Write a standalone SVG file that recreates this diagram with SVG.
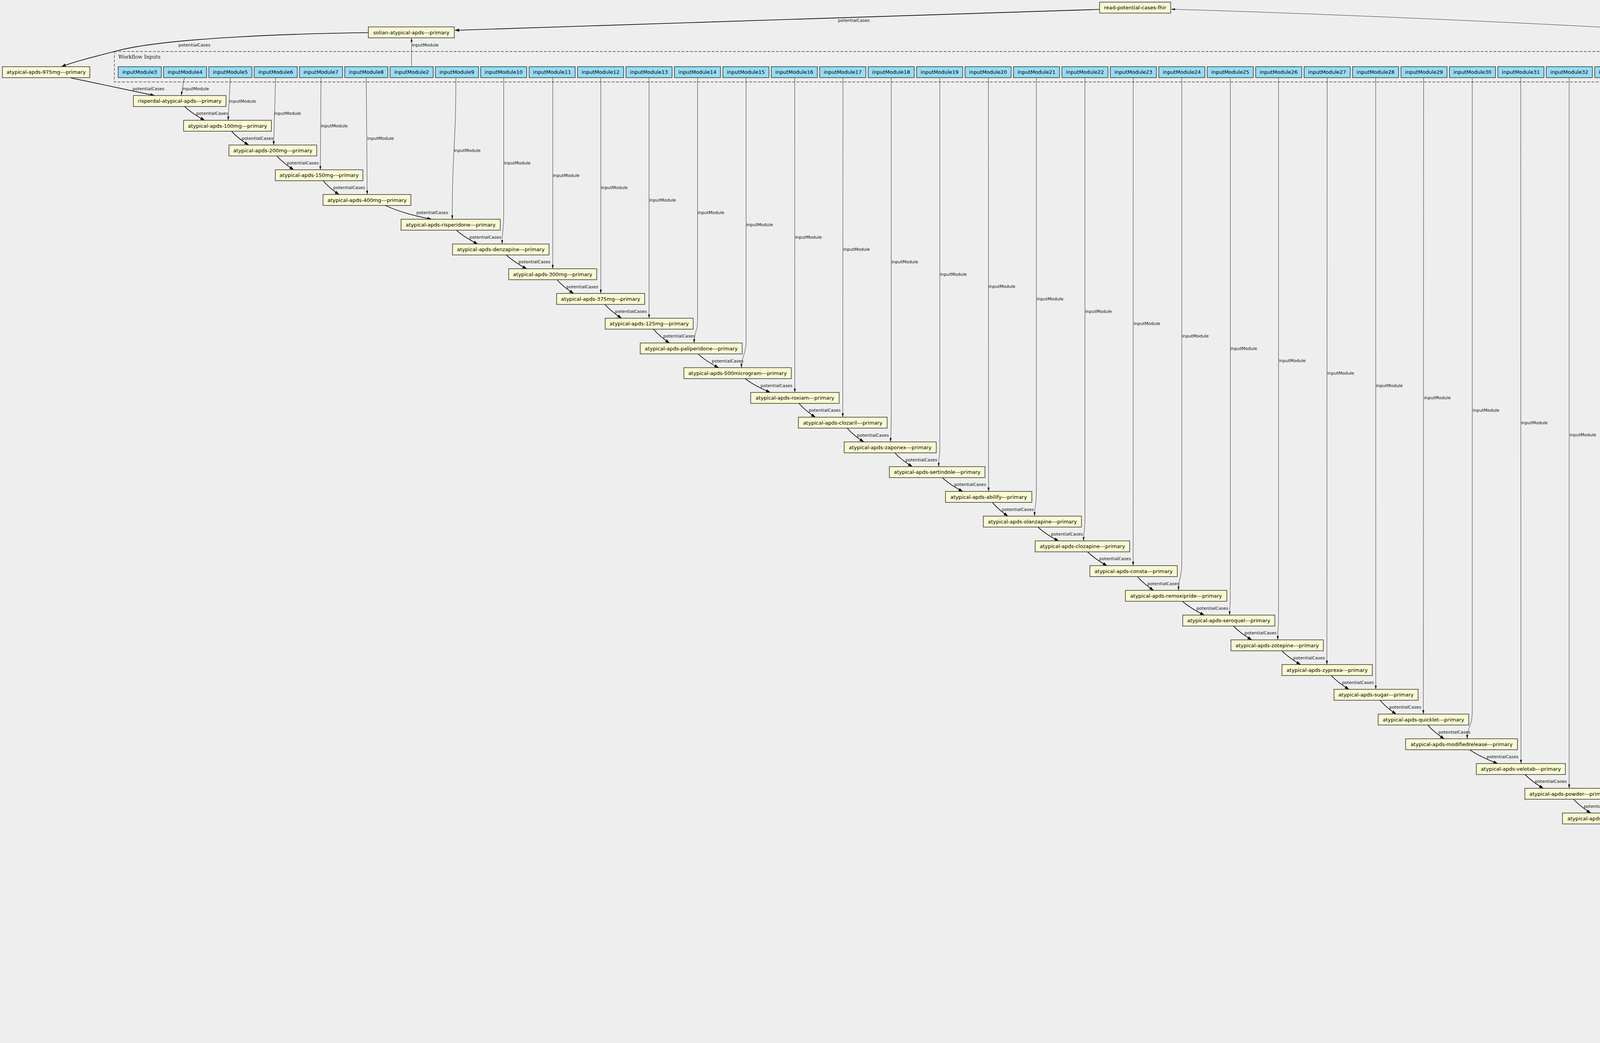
<svg xmlns="http://www.w3.org/2000/svg" width="5211" height="2670" viewBox="0 0 5211 2670">
<defs>
<style>
.step{fill:#fafad2;stroke:#333;stroke-width:1.5}
.io{fill:#94ddf4;stroke:#333;stroke-width:1.5}
.nt{font-family:"DejaVu Sans",sans-serif;font-size:13px;text-anchor:middle;fill:#000}
.el{font-family:"DejaVu Sans",sans-serif;font-size:11px;fill:#111}
.cl{fill:none;stroke:#444;stroke-width:1.4;stroke-dasharray:7,4}
.ct{font-family:"DejaVu Serif",serif;font-size:13px;fill:#222}
.pc{fill:none;stroke:#000;stroke-width:1.6;marker-end:url(#ab)}
.im{fill:none;stroke:#333;stroke-width:1;marker-end:url(#at)}
.oc{fill:none;stroke:#333;stroke-width:2;marker-end:url(#ab)}
</style>
<marker id="ab" viewBox="0 0 11 8" refX="11" refY="4" markerWidth="11" markerHeight="8" markerUnits="userSpaceOnUse" orient="auto"><path d="M0,0L11,4L0,8z" fill="#000"/></marker>
<marker id="at" viewBox="0 0 10 5" refX="10" refY="2.5" markerWidth="10" markerHeight="5" markerUnits="userSpaceOnUse" orient="auto"><path d="M0,0L10,2.5L0,5z" fill="#000"/></marker>
</defs>
<rect x="0" y="0" width="5211" height="2670" fill="#eeeeee"/>

<g id="cluster-inputs"><rect class="cl" x="292.7" y="131.7" width="4902.3" height="78"/><text class="ct" x="302.7" y="150">Workflow Inputs</text></g>
<g id="cluster-outputs"><rect class="cl" x="4971.6" y="2576" width="142.4" height="78"/><text class="ct" x="5042.8" y="2643.5" text-anchor="middle">Workflow Outputs</text></g>

<g id="connectors">
<path class="pc" d="M2815,24 L1164.5,77.5"/>
<text class="el" x="2145" y="55.8">potentialCases</text>
<path class="pc" d="M943,83.5 C760,86 430,96 300,130 C230,148 190,158 157.5,170.5"/>
<text class="el" x="456.8" y="119">potentialCases</text>
<path class="im" d="M4747,170.7 C4715,125 4660,112 4470,93 C4200,70 3400,35 2998,23.6"/>
<text class="el" x="4481" y="87">inputModule</text>
<path class="im" d="M1053.6,170.7 L1053.6,97.3"/>
<text class="el" x="1054.5" y="119">inputModule</text>
<path class="pc" d="M180.7,199.3 L396,244.6"/>
<text class="el" x="339.3" y="231">potentialCases</text>

<path class="pc" d="M472.5,272.6 C487.9,287.4 506,298.4 524,307.9"/>
<path class="pc" d="M592.7,335.9 C605.9,350.7 621.3,361.8 636.7,371.3"/>
<path class="pc" d="M708.8,399.3 C721.8,414.1 736.9,425.1 752,434.6"/>
<path class="pc" d="M827,462.6 C839.3,477.4 853.7,488.4 868,497.9"/>
<path class="pc" d="M986.5,525.9 C1025,544 1065,553 1105,561.3"/>
<path class="pc" d="M1168.4,589.3 C1184.8,604.1 1203.9,615.1 1223,624.6"/>
<path class="pc" d="M1296,652.6 C1311.8,667.4 1330.2,678.5 1348.6,688"/>
<path class="pc" d="M1425.8,716 C1438.6,730.8 1453.6,741.8 1468.6,751.3"/>
<path class="pc" d="M1548.6,779.3 C1561.4,794.1 1576.4,805.1 1591.4,814.6"/>
<path class="pc" d="M1672.7,842.6 C1685.1,857.4 1699.5,868.5 1714,878"/>
<path class="pc" d="M1787,906 C1802.8,920.8 1821.3,931.8 1839.7,941.3"/>
<path class="pc" d="M1907.7,969.3 C1927,984.1 1949.5,995.1 1972,1004.6"/>
<path class="pc" d="M2045.2,1032.6 C2057.8,1047.4 2072.6,1058.5 2087.3,1068"/>
<path class="pc" d="M2168.7,1096 C2181.5,1110.8 2196.5,1121.8 2211.5,1131.3"/>
<path class="pc" d="M2290.7,1159.3 C2304.2,1174.1 2319.9,1185.1 2335.6,1194.6"/>
<path class="pc" d="M2412,1222.6 C2427.8,1237.4 2446.3,1248.5 2464.7,1258"/>
<path class="pc" d="M2540.5,1286 C2552.5,1300.8 2566.5,1311.8 2580.5,1321.3"/>
<path class="pc" d="M2657,1349.3 C2672.9,1364.1 2691.5,1375.1 2710,1384.6"/>
<path class="pc" d="M2784,1412.6 C2799,1427.4 2816.5,1438.5 2834,1448"/>
<path class="pc" d="M2912,1476 C2924.4,1490.8 2938.9,1501.8 2953.4,1511.3"/>
<path class="pc" d="M3027,1539.3 C3043.9,1554.1 3063.5,1565.1 3083.2,1574.6"/>
<path class="pc" d="M3157.6,1602.6 C3171.7,1617.4 3188.2,1628.5 3204.6,1638"/>
<path class="pc" d="M3281.7,1666 C3296,1680.8 3312.8,1691.8 3329.5,1701.3"/>
<path class="pc" d="M3408,1729.3 C3421.7,1744.1 3437.6,1755.1 3453.6,1764.6"/>
<path class="pc" d="M3532.9,1792.6 C3545.3,1807.4 3559.8,1818.5 3574.3,1828"/>
<path class="pc" d="M3655,1856 C3667.7,1870.8 3682.5,1881.8 3697.3,1891.3"/>
<path class="pc" d="M3762.6,1919.3 C3784,1934.1 3809,1945.1 3834,1954.6"/>
<path class="pc" d="M3904,1982.6 C3918.1,1997.4 3934.6,2008.5 3951,2018"/>
<path class="pc" d="M4028.4,2046 C4041.7,2060.8 4057.1,2071.8 4072.6,2081.3"/>
<path class="pc" d="M4144,2109.3 C4161.1,2124.1 4181,2135.1 4201,2144.6"/>
<path class="pc" d="M4275.4,2172.6 C4288.8,2187.4 4304.4,2198.5 4320,2208"/>
<path class="pc" d="M4391,2236 C4408.3,2250.8 4428.4,2261.8 4448.6,2271.3"/>
<path class="pc" d="M4522.5,2299.3 C4539.1,2314.1 4558.4,2325.1 4577.7,2334.6"/>
<path class="pc" d="M4694,2362.6 L4825.8,2398"/>
<path class="pc" d="M4888,2426 C4901.5,2440.8 4917.3,2451.8 4933,2461.3"/>
<path class="pc" d="M5004,2489.3 C5012,2503 5020,2512 5028,2524.6"/>
<path class="oc" d="M5041.6,2552.6 L5041.6,2587.3"/>

<text class="el" x="502.4" y="294.3">potentialCases</text>
<text class="el" x="618.4" y="357.6">potentialCases</text>
<text class="el" x="734.5" y="421">potentialCases</text>
<text class="el" x="853" y="484.3">potentialCases</text>
<text class="el" x="1066" y="547.6">potentialCases</text>
<text class="el" x="1202" y="611">potentialCases</text>
<text class="el" x="1327.6" y="674.3">potentialCases</text>
<text class="el" x="1450" y="737.7">potentialCases</text>
<text class="el" x="1574.5" y="801">potentialCases</text>
<text class="el" x="1698" y="864.3">potentialCases</text>
<text class="el" x="1822" y="927.7">potentialCases</text>
<text class="el" x="1947" y="991">potentialCases</text>
<text class="el" x="2070.5" y="1054.3">potentialCases</text>
<text class="el" x="2194" y="1117.7">potentialCases</text>
<text class="el" x="2318" y="1181">potentialCases</text>
<text class="el" x="2443" y="1244.3">potentialCases</text>
<text class="el" x="2565" y="1307.7">potentialCases</text>
<text class="el" x="2690.6" y="1371">potentialCases</text>
<text class="el" x="2813.8" y="1434.3">potentialCases</text>
<text class="el" x="2937.3" y="1497.7">potentialCases</text>
<text class="el" x="3062.9" y="1561">potentialCases</text>
<text class="el" x="3186.3" y="1624.3">potentialCases</text>
<text class="el" x="3310.5" y="1687.7">potentialCases</text>
<text class="el" x="3435.4" y="1751">potentialCases</text>
<text class="el" x="3556.7" y="1814.3">potentialCases</text>
<text class="el" x="3682.6" y="1877.7">potentialCases</text>
<text class="el" x="3806" y="1941">potentialCases</text>
<text class="el" x="3929.5" y="2004.3">potentialCases</text>
<text class="el" x="4054.4" y="2067.7">potentialCases</text>
<text class="el" x="4178.5" y="2131">potentialCases</text>
<text class="el" x="4302" y="2194.3">potentialCases</text>
<text class="el" x="4426" y="2257.7">potentialCases</text>
<text class="el" x="4555.6" y="2321">potentialCases</text>
<text class="el" x="4781" y="2384.3">potentialCases</text>
<text class="el" x="4914.7" y="2447.7">potentialCases</text>
<text class="el" x="5021" y="2511">potentialCases</text>

<path class="im" d="M472,198.7 L464,244.6"/>
<path class="im" d="M589.7,198.7 L584,307.9"/>
<path class="im" d="M705.6,198.7 L700.5,371.3"/>
<path class="im" d="M821.8,198.7 L820,434.6"/>
<path class="im" d="M937.6,198.7 L940,497.9"/>
<path class="im" d="M1167,198.7 C1167,380 1157.8,380 1157.8,561.3"/>
<path class="im" d="M1289.5,198.7 L1289.5,540 C1289.5,590 1285.5,590 1285.5,624.6"/>
<path class="im" d="M1415,198.7 L1415,688"/>
<path class="im" d="M1538,198.7 L1538,751.3"/>
<path class="im" d="M1661.5,198.7 L1661.5,814.6"/>
<path class="im" d="M1785.7,198.7 L1785.7,820 C1785.7,850 1777,850 1777,878"/>
<path class="im" d="M1910,198.7 L1910,870 C1910,910 1898,910 1898,941.3"/>
<path class="im" d="M2034.5,198.7 L2034.7,1004.6"/>
<path class="im" d="M2158,198.7 L2157.5,1068"/>
<path class="im" d="M2281.5,198.7 L2281.5,1080 C2281.5,1110 2280,1110 2280,1131.3"/>
<path class="im" d="M2405.9,198.7 L2405.9,1140 C2405.9,1170 2403,1170 2403,1194.6"/>
<path class="im" d="M2530.3,198.7 L2530.7,1258"/>
<path class="im" d="M2653,198.7 L2653,1260 C2653,1295 2648.5,1295 2648.5,1321.3"/>
<path class="im" d="M2777.4,198.7 L2777.4,1325 C2777.4,1360 2774,1360 2774,1384.6"/>
<path class="im" d="M2901,198.7 L2900.8,1448"/>
<path class="im" d="M3025.3,198.7 L3025.3,1440 C3025.3,1480 3017,1480 3017,1511.3"/>
<path class="im" d="M3149.6,198.7 L3149.6,1520 C3149.6,1550 3147.8,1550 3147.8,1574.6"/>
<path class="im" d="M3273,198.7 L3273,1580 C3273,1610 3271,1610 3271,1638"/>
<path class="im" d="M3397.5,198.7 L3396.8,1701.3"/>
<path class="im" d="M3521.8,198.7 L3522,1764.6"/>
<path class="im" d="M3644.5,198.7 L3643.7,1828"/>
<path class="im" d="M3769,198.7 L3769,1820 C3769,1860 3756,1860 3756,1891.3"/>
<path class="im" d="M3893,198.7 L3893.7,1954.6"/>
<path class="im" d="M4017,198.7 L4017,2018"/>
<path class="im" d="M4141.6,198.7 L4141.6,2010 C4141.6,2050 4134,2050 4134,2081.3"/>
<path class="im" d="M4265.3,198.7 L4264.8,2144.6"/>
<path class="im" d="M4390,198.7 L4390,2140 C4390,2175 4381,2175 4381,2208"/>
<path class="im" d="M4513.6,198.7 L4513.6,2210 C4513.6,2240 4510,2240 4510,2271.3"/>
<path class="im" d="M4639,198.7 C4641,220 4643,240 4643,270 L4643,2334.6"/>
<path class="im" d="M4878,198.7 L4877.5,2398"/>
<path class="im" d="M5001.8,198.7 L5001.8,2400 C5001.8,2435 4997,2435 4997,2461.3"/>
<path class="im" d="M5125.6,198.7 L5125.6,2470 C5125.6,2495 5108,2508 5091,2524.6"/>

<text class="el" x="466.7" y="231">inputModule</text>
<text class="el" x="587" y="262.7">inputModule</text>
<text class="el" x="702" y="294.3">inputModule</text>
<text class="el" x="821.5" y="326">inputModule</text>
<text class="el" x="940" y="357.6">inputModule</text>
<text class="el" x="1162" y="389.3">inputModule</text>
<text class="el" x="1290" y="420.9">inputModule</text>
<text class="el" x="1415.5" y="452.6">inputModule</text>
<text class="el" x="1538.5" y="484.2">inputModule</text>
<text class="el" x="1662" y="515.9">inputModule</text>
<text class="el" x="1786" y="547.5">inputModule</text>
<text class="el" x="1910.5" y="579.2">inputModule</text>
<text class="el" x="2035.5" y="610.8">inputModule</text>
<text class="el" x="2158.5" y="642.4">inputModule</text>
<text class="el" x="2282" y="674.1">inputModule</text>
<text class="el" x="2406.5" y="705.7">inputModule</text>
<text class="el" x="2531" y="737.4">inputModule</text>
<text class="el" x="2654" y="769">inputModule</text>
<text class="el" x="2778" y="800.7">inputModule</text>
<text class="el" x="2902" y="832.3">inputModule</text>
<text class="el" x="3026" y="864">inputModule</text>
<text class="el" x="3150" y="895.6">inputModule</text>
<text class="el" x="3274" y="927.2">inputModule</text>
<text class="el" x="3398" y="958.9">inputModule</text>
<text class="el" x="3522.5" y="990.5">inputModule</text>
<text class="el" x="3645.5" y="1022.2">inputModule</text>
<text class="el" x="3770" y="1053.8">inputModule</text>
<text class="el" x="3894" y="1085.5">inputModule</text>
<text class="el" x="4018" y="1117.1">inputModule</text>
<text class="el" x="4142.5" y="1148.8">inputModule</text>
<text class="el" x="4266" y="1180.4">inputModule</text>
<text class="el" x="4391" y="1212">inputModule</text>
<text class="el" x="4514.5" y="1243.7">inputModule</text>
<text class="el" x="4643.5" y="1275.3">inputModule</text>
<text class="el" x="4879" y="1307">inputModule</text>
<text class="el" x="5002.5" y="1338.6">inputModule</text>
<text class="el" x="5126.5" y="1370.3">inputModule</text>
</g>

<g id="read-potential-cases-fhir"><rect class="step" x="2815" y="5.5" width="182" height="28"/><text class="nt" x="2906" y="24.2">read-potential-cases-fhir</text></g>
<g id="solian-atypical-apds---primary"><rect class="step" x="943" y="68.8" width="220" height="28"/><text class="nt" x="1053" y="87.5">solian-atypical-apds---primary</text></g>
<g id="atypical-apds-975mg---primary"><rect class="step" x="6" y="170.7" width="224" height="28"/><text class="nt" x="118" y="189.4">atypical-apds-975mg---primary</text></g>

<g id="inputModule3"><rect class="io" x="302.5" y="170.7" width="110.5" height="28"/><text class="nt" x="357.75" y="189.4">inputModule3</text></g>
<g id="inputModule4"><rect class="io" x="418.5" y="170.7" width="110.5" height="28"/><text class="nt" x="473.75" y="189.4">inputModule4</text></g>
<g id="inputModule5"><rect class="io" x="534.5" y="170.7" width="110.5" height="28"/><text class="nt" x="589.75" y="189.4">inputModule5</text></g>
<g id="inputModule6"><rect class="io" x="650.5" y="170.7" width="110.5" height="28"/><text class="nt" x="705.75" y="189.4">inputModule6</text></g>
<g id="inputModule7"><rect class="io" x="766.5" y="170.7" width="110.5" height="28"/><text class="nt" x="821.75" y="189.4">inputModule7</text></g>
<g id="inputModule8"><rect class="io" x="882.5" y="170.7" width="110.5" height="28"/><text class="nt" x="937.75" y="189.4">inputModule8</text></g>
<g id="inputModule2"><rect class="io" x="998.5" y="170.7" width="110.5" height="28"/><text class="nt" x="1053.75" y="189.4">inputModule2</text></g>
<g id="inputModule9"><rect class="io" x="1114.5" y="170.7" width="110.5" height="28"/><text class="nt" x="1169.75" y="189.4">inputModule9</text></g>
<g id="inputModule10"><rect class="io" x="1230.5" y="170.7" width="118" height="28"/><text class="nt" x="1289.5" y="189.4">inputModule10</text></g>
<g id="inputModule11"><rect class="io" x="1354.5" y="170.7" width="118" height="28"/><text class="nt" x="1413.5" y="189.4">inputModule11</text></g>
<g id="inputModule12"><rect class="io" x="1478.5" y="170.7" width="118" height="28"/><text class="nt" x="1537.5" y="189.4">inputModule12</text></g>
<g id="inputModule13"><rect class="io" x="1602.5" y="170.7" width="118" height="28"/><text class="nt" x="1661.5" y="189.4">inputModule13</text></g>
<g id="inputModule14"><rect class="io" x="1726.5" y="170.7" width="118" height="28"/><text class="nt" x="1785.5" y="189.4">inputModule14</text></g>
<g id="inputModule15"><rect class="io" x="1850.5" y="170.7" width="118" height="28"/><text class="nt" x="1909.5" y="189.4">inputModule15</text></g>
<g id="inputModule16"><rect class="io" x="1974.5" y="170.7" width="118" height="28"/><text class="nt" x="2033.5" y="189.4">inputModule16</text></g>
<g id="inputModule17"><rect class="io" x="2098.5" y="170.7" width="118" height="28"/><text class="nt" x="2157.5" y="189.4">inputModule17</text></g>
<g id="inputModule18"><rect class="io" x="2222.5" y="170.7" width="118" height="28"/><text class="nt" x="2281.5" y="189.4">inputModule18</text></g>
<g id="inputModule19"><rect class="io" x="2346.5" y="170.7" width="118" height="28"/><text class="nt" x="2405.5" y="189.4">inputModule19</text></g>
<g id="inputModule20"><rect class="io" x="2470.5" y="170.7" width="118" height="28"/><text class="nt" x="2529.5" y="189.4">inputModule20</text></g>
<g id="inputModule21"><rect class="io" x="2594.5" y="170.7" width="118" height="28"/><text class="nt" x="2653.5" y="189.4">inputModule21</text></g>
<g id="inputModule22"><rect class="io" x="2718.5" y="170.7" width="118" height="28"/><text class="nt" x="2777.5" y="189.4">inputModule22</text></g>
<g id="inputModule23"><rect class="io" x="2842.5" y="170.7" width="118" height="28"/><text class="nt" x="2901.5" y="189.4">inputModule23</text></g>
<g id="inputModule24"><rect class="io" x="2966.5" y="170.7" width="118" height="28"/><text class="nt" x="3025.5" y="189.4">inputModule24</text></g>
<g id="inputModule25"><rect class="io" x="3090.5" y="170.7" width="118" height="28"/><text class="nt" x="3149.5" y="189.4">inputModule25</text></g>
<g id="inputModule26"><rect class="io" x="3214.5" y="170.7" width="118" height="28"/><text class="nt" x="3273.5" y="189.4">inputModule26</text></g>
<g id="inputModule27"><rect class="io" x="3338.5" y="170.7" width="118" height="28"/><text class="nt" x="3397.5" y="189.4">inputModule27</text></g>
<g id="inputModule28"><rect class="io" x="3462.5" y="170.7" width="118" height="28"/><text class="nt" x="3521.5" y="189.4">inputModule28</text></g>
<g id="inputModule29"><rect class="io" x="3586.5" y="170.7" width="118" height="28"/><text class="nt" x="3645.5" y="189.4">inputModule29</text></g>
<g id="inputModule30"><rect class="io" x="3710.5" y="170.7" width="118" height="28"/><text class="nt" x="3769.5" y="189.4">inputModule30</text></g>
<g id="inputModule31"><rect class="io" x="3834.5" y="170.7" width="118" height="28"/><text class="nt" x="3893.5" y="189.4">inputModule31</text></g>
<g id="inputModule32"><rect class="io" x="3958.5" y="170.7" width="118" height="28"/><text class="nt" x="4017.5" y="189.4">inputModule32</text></g>
<g id="inputModule33"><rect class="io" x="4082.5" y="170.7" width="118" height="28"/><text class="nt" x="4141.5" y="189.4">inputModule33</text></g>
<g id="inputModule34"><rect class="io" x="4206.5" y="170.7" width="118" height="28"/><text class="nt" x="4265.5" y="189.4">inputModule34</text></g>
<g id="inputModule35"><rect class="io" x="4330.5" y="170.7" width="118" height="28"/><text class="nt" x="4389.5" y="189.4">inputModule35</text></g>
<g id="inputModule36"><rect class="io" x="4454.5" y="170.7" width="118" height="28"/><text class="nt" x="4513.5" y="189.4">inputModule36</text></g>
<g id="inputModule37"><rect class="io" x="4578.5" y="170.7" width="118" height="28"/><text class="nt" x="4637.5" y="189.4">inputModule37</text></g>
<g id="inputModule1"><rect class="io" x="4702.5" y="170.7" width="110.5" height="28"/><text class="nt" x="4757.75" y="189.4">inputModule1</text></g>
<g id="inputModule38"><rect class="io" x="4818.5" y="170.7" width="118" height="28"/><text class="nt" x="4877.5" y="189.4">inputModule38</text></g>
<g id="inputModule39"><rect class="io" x="4942.5" y="170.7" width="118" height="28"/><text class="nt" x="5001.5" y="189.4">inputModule39</text></g>
<g id="inputModule40"><rect class="io" x="5066.5" y="170.7" width="118" height="28"/><text class="nt" x="5125.5" y="189.4">inputModule40</text></g>

<g id="risperdal-atypical-apds---primary"><rect class="step" x="341.5" y="244.6" width="237.1" height="28"/><text class="nt" x="460.05" y="263.3">risperdal-atypical-apds---primary</text></g>
<g id="atypical-apds-100mg---primary"><rect class="step" x="470" y="307.9" width="224.7" height="28"/><text class="nt" x="582.35" y="326.6">atypical-apds-100mg---primary</text></g>
<g id="atypical-apds-200mg---primary"><rect class="step" x="586" y="371.3" width="224.8" height="28"/><text class="nt" x="698.4" y="390">atypical-apds-200mg---primary</text></g>
<g id="atypical-apds-150mg---primary"><rect class="step" x="704.7" y="434.6" width="224.3" height="28"/><text class="nt" x="816.85" y="453.3">atypical-apds-150mg---primary</text></g>
<g id="atypical-apds-400mg---primary"><rect class="step" x="827" y="497.9" width="225" height="28"/><text class="nt" x="939.5" y="516.6">atypical-apds-400mg---primary</text></g>
<g id="atypical-apds-risperidone---primary"><rect class="step" x="1026.7" y="561.3" width="253.9" height="28"/><text class="nt" x="1153.65" y="580">atypical-apds-risperidone---primary</text></g>
<g id="atypical-apds-denzapine---primary"><rect class="step" x="1158.5" y="624.6" width="247" height="28"/><text class="nt" x="1282" y="643.3">atypical-apds-denzapine---primary</text></g>
<g id="atypical-apds-300mg---primary"><rect class="step" x="1302.3" y="688" width="225.2" height="28"/><text class="nt" x="1414.9" y="706.7">atypical-apds-300mg---primary</text></g>
<g id="atypical-apds-375mg---primary"><rect class="step" x="1425" y="751.3" width="225.3" height="28"/><text class="nt" x="1537.65" y="770">atypical-apds-375mg---primary</text></g>
<g id="atypical-apds-125mg---primary"><rect class="step" x="1549.3" y="814.6" width="225.2" height="28"/><text class="nt" x="1661.9" y="833.3">atypical-apds-125mg---primary</text></g>
<g id="atypical-apds-paliperidone---primary"><rect class="step" x="1639" y="878" width="261" height="28"/><text class="nt" x="1769.5" y="896.7">atypical-apds-paliperidone---primary</text></g>
<g id="atypical-apds-500microgram---primary"><rect class="step" x="1750.6" y="941.3" width="275" height="28"/><text class="nt" x="1888.1" y="960">atypical-apds-500microgram---primary</text></g>
<g id="atypical-apds-roxiam---primary"><rect class="step" x="1921.7" y="1004.6" width="226.6" height="28"/><text class="nt" x="2035" y="1023.3">atypical-apds-roxiam---primary</text></g>
<g id="atypical-apds-clozaril---primary"><rect class="step" x="2043.8" y="1068" width="227.2" height="28"/><text class="nt" x="2157.4" y="1086.7">atypical-apds-clozaril---primary</text></g>
<g id="atypical-apds-zaponex---primary"><rect class="step" x="2161" y="1131.3" width="235.7" height="28"/><text class="nt" x="2278.85" y="1150">atypical-apds-zaponex---primary</text></g>
<g id="atypical-apds-sertindole---primary"><rect class="step" x="2276.7" y="1194.6" width="244.8" height="28"/><text class="nt" x="2399.1" y="1213.3">atypical-apds-sertindole---primary</text></g>
<g id="atypical-apds-abilify---primary"><rect class="step" x="2420.5" y="1258" width="221" height="28"/><text class="nt" x="2531" y="1276.7">atypical-apds-abilify---primary</text></g>
<g id="atypical-apds-olanzapine---primary"><rect class="step" x="2517.3" y="1321.3" width="251.2" height="28"/><text class="nt" x="2642.9" y="1340">atypical-apds-olanzapine---primary</text></g>
<g id="atypical-apds-clozapine---primary"><rect class="step" x="2650" y="1384.6" width="242" height="28"/><text class="nt" x="2771" y="1403.3">atypical-apds-clozapine---primary</text></g>
<g id="atypical-apds-consta---primary"><rect class="step" x="2790" y="1448" width="223.8" height="28"/><text class="nt" x="2901.9" y="1466.7">atypical-apds-consta---primary</text></g>
<g id="atypical-apds-remoxipride---primary"><rect class="step" x="2881" y="1511.3" width="259.7" height="28"/><text class="nt" x="3010.85" y="1530">atypical-apds-remoxipride---primary</text></g>
<g id="atypical-apds-seroquel---primary"><rect class="step" x="3027.8" y="1574.6" width="235.7" height="28"/><text class="nt" x="3145.65" y="1593.3">atypical-apds-seroquel---primary</text></g>
<g id="atypical-apds-zotepine---primary"><rect class="step" x="3151.3" y="1638" width="236.4" height="28"/><text class="nt" x="3269.5" y="1656.7">atypical-apds-zotepine---primary</text></g>
<g id="atypical-apds-zyprexa---primary"><rect class="step" x="3281.7" y="1701.3" width="231.5" height="28"/><text class="nt" x="3397.45" y="1720">atypical-apds-zyprexa---primary</text></g>
<g id="atypical-apds-sugar---primary"><rect class="step" x="3415" y="1764.6" width="215.4" height="28"/><text class="nt" x="3522.7" y="1783.3">atypical-apds-sugar---primary</text></g>
<g id="atypical-apds-quicklet---primary"><rect class="step" x="3528" y="1828" width="232" height="28"/><text class="nt" x="3644" y="1846.7">atypical-apds-quicklet---primary</text></g>
<g id="atypical-apds-modifiedrelease---primary"><rect class="step" x="3598.4" y="1891.3" width="286.2" height="28"/><text class="nt" x="3741.5" y="1910">atypical-apds-modifiedrelease---primary</text></g>
<g id="atypical-apds-velotab---primary"><rect class="step" x="3779.4" y="1954.6" width="228" height="28"/><text class="nt" x="3893.4" y="1973.3">atypical-apds-velotab---primary</text></g>
<g id="atypical-apds-powder---primary"><rect class="step" x="3903.6" y="2018" width="227.9" height="28"/><text class="nt" x="4017.55" y="2036.7">atypical-apds-powder---primary</text></g>
<g id="atypical-apds-lyophilisate---primary"><rect class="step" x="4000" y="2081.3" width="256.4" height="28"/><text class="nt" x="4128.2" y="2100">atypical-apds-lyophilisate---primary</text></g>
<g id="atypical-apds-solution---primary"><rect class="step" x="4148.4" y="2144.6" width="232.2" height="28"/><text class="nt" x="4264.5" y="2163.3">atypical-apds-solution---primary</text></g>
<g id="atypical-apds-aripiprazole---primary"><rect class="step" x="4246.6" y="2208" width="256.7" height="28"/><text class="nt" x="4374.95" y="2226.7">atypical-apds-aripiprazole---primary</text></g>
<g id="atypical-apds-quetiapine---primary"><rect class="step" x="4383.6" y="2271.3" width="249.4" height="28"/><text class="nt" x="4508.3" y="2290">atypical-apds-quetiapine---primary</text></g>
<g id="atypical-apds-serdolect---primary"><rect class="step" x="4523" y="2334.6" width="240" height="28"/><text class="nt" x="4643" y="2353.3">atypical-apds-serdolect---primary</text></g>
<g id="atypical-apds-zoleptil---primary"><rect class="step" x="4763.6" y="2398" width="228.4" height="28"/><text class="nt" x="4877.8" y="2416.7">atypical-apds-zoleptil---primary</text></g>
<g id="sublingual-atypical-apds---primary"><rect class="step" x="4868.8" y="2461.3" width="247.5" height="28"/><text class="nt" x="4992.55" y="2480">sublingual-atypical-apds---primary</text></g>
<g id="output-cases"><rect class="step" x="4989" y="2524.6" width="105.2" height="28"/><text class="nt" x="5041.6" y="2543.3">output-cases</text></g>
<g id="cases"><rect class="io" x="5012.3" y="2587.3" width="58.7" height="27.7"/><text class="nt" x="5041.65" y="2606">cases</text></g>
</svg>
